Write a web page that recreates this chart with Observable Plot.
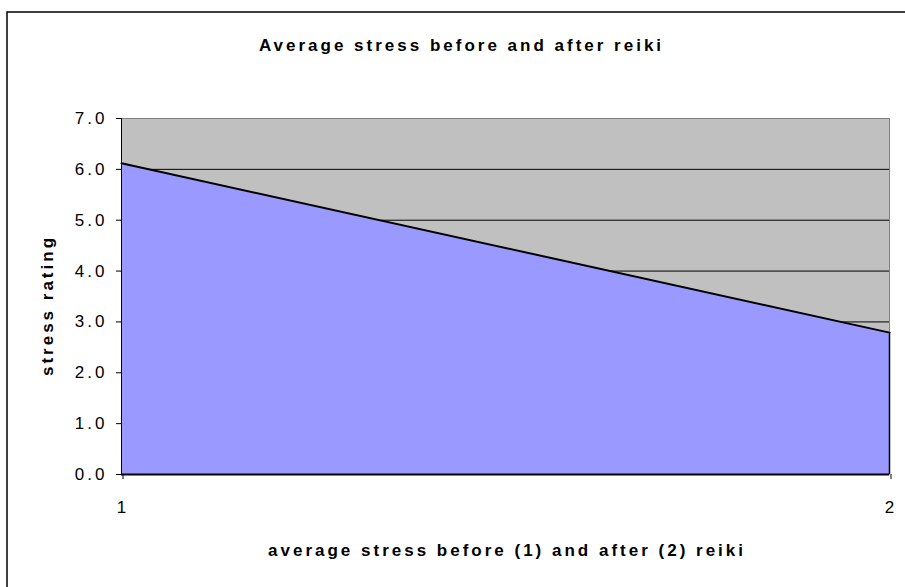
<!DOCTYPE html>
<html>
<head>
<meta charset="utf-8">
<script src="https://cdn.jsdelivr.net/npm/d3@7"></script>
<script src="https://cdn.jsdelivr.net/npm/@observablehq/plot@0.6"></script>
<style>
  body { margin: 0; background: #ffffff; }
  #chart { position: relative; width: 905px; height: 587px; overflow: hidden; }
</style>
</head>
<body>
<div id="chart"></div>
<script>
// ---- data ----
const periods = [1, 2];
const stress = [6.12, 2.79];
const xTicks = [1, 2];
const yTicks = [0, 1, 2, 3, 4, 5, 6, 7];
const gridValues = [1, 2, 3, 4, 5, 6];
const titleText = "Average stress before and after reiki";
const xLabelText = "average stress before (1) and after (2) reiki";
const yLabelText = "stress rating";

const data = periods.map((p, i) => ({period: p, stress: stress[i]}));
const last = data[data.length - 1];

const chart = Plot.plot({
  width: 905,
  height: 587,
  marginLeft: 121,
  marginRight: 16,
  marginTop: 118,
  marginBottom: 113,
  style: {
    fontFamily: "'Liberation Sans', Arial, sans-serif",
    fontSize: "17px",
    color: "#000",
    background: "#ffffff",
    letterSpacing: "3px"
  },
  x: {domain: [1, 2], axis: null},
  y: {domain: [0, 7], axis: null},
  marks: [
    Plot.frame({fill: "#C0C0C0", stroke: "#808080", strokeWidth: 1}),
    Plot.ruleY(gridValues, {stroke: "#000", strokeWidth: 1}),
    Plot.areaY(data, {x: "period", y: "stress", fill: "#9999FF", curve: "linear"}),
    Plot.ruleX([last], {x: "period", y1: 0, y2: "stress", stroke: "#000", strokeWidth: 1.5}),
    Plot.lineY(data, {x: "period", y: "stress", stroke: "#000", strokeWidth: 2}),
    Plot.ruleX([1], {stroke: "#000", strokeWidth: 1}),
    Plot.ruleY([0], {stroke: "#000", strokeWidth: 2}),
    Plot.axisY({
      ticks: yTicks, tickSize: 5, tickPadding: 9,
      tickFormat: d => d.toFixed(1), label: null, stroke: "#000", fontSize: 17
    }),
    Plot.axisX({
      ticks: xTicks, tickSize: 5, tickPadding: 21,
      tickFormat: d => String(d), label: null, stroke: "#000", fontSize: 17, dx: 1.5
    }),
    Plot.text([titleText], {
      frameAnchor: "top", lineAnchor: "bottom", textAnchor: "middle",
      dy: -68, dx: -44, fontWeight: "bold", fontSize: 17, fill: "#000"
    }),
    Plot.text([xLabelText], {
      frameAnchor: "bottom", lineAnchor: "bottom", textAnchor: "middle",
      dy: 81, dx: 1.5, fontWeight: "bold", fontSize: 17, fill: "#000"
    }),
    Plot.text([yLabelText], {
      frameAnchor: "left", lineAnchor: "bottom", textAnchor: "middle",
      rotate: -90, dx: -69, dy: 9, fontWeight: "bold", fontSize: 17, fill: "#000"
    })
  ]
});

document.getElementById("chart").appendChild(chart);

// outer chart-area border (left and top edges visible in the crop)
d3.select(chart).append("path")
  .attr("d", "M7,587V12H905")
  .attr("fill", "none")
  .attr("stroke", "#000")
  .attr("stroke-width", 1.5);
</script>
</body>
</html>
